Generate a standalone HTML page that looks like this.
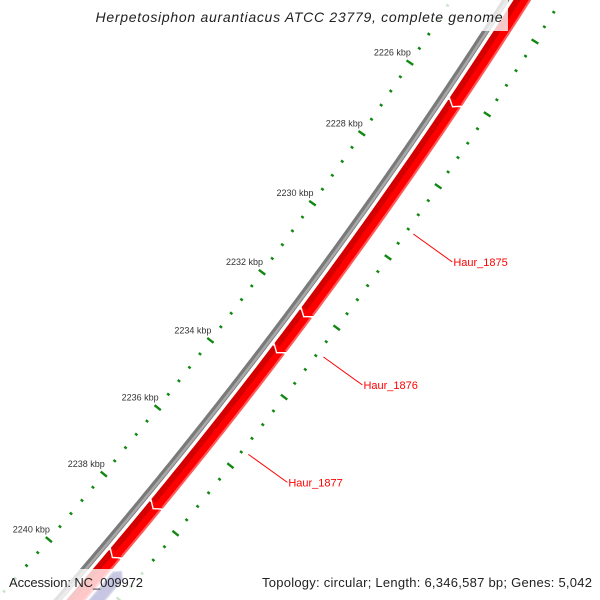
<!DOCTYPE html>
<html><head><meta charset="utf-8"><style>
html,body{margin:0;padding:0;background:#fff;width:600px;height:600px;overflow:hidden;}
svg{display:block;font-family:"Liberation Sans",sans-serif;}
</style></head><body>
<svg id="map" width="600" height="600" viewBox="0 0 600 600" xmlns="http://www.w3.org/2000/svg" overflow="hidden">
<defs><clipPath id="frame"><rect x="0" y="0" width="600" height="600"/></clipPath></defs>
<g clip-path="url(#frame)">
<g id="ticks"></g>
<g id="backbone"></g>
<g id="genes"></g>
<g id="labels"></g>
</g>
<rect x="90" y="0" width="418" height="31" fill="#fff" fill-opacity="0.78"/>
<text x="299" y="22" text-anchor="middle" font-size="14" font-style="italic" fill="#222" textLength="407">Herpetosiphon aurantiacus ATCC 23779, complete genome</text>
<rect x="0" y="569" width="150" height="31" fill="#fff" fill-opacity="0.78"/>
<text x="9" y="587" font-size="13" fill="#222" textLength="134">Accession: NC_009972</text>
<rect x="255" y="569" width="345" height="31" fill="#fff" fill-opacity="0.78"/>
<text x="262" y="587" font-size="13" fill="#222" textLength="330">Topology: circular; Length: 6,346,587 bp; Genes: 5,042</text>
</svg>
<script>
var geneNames = ["", "Haur_1875", "Haur_1876", "Haur_1877", "", ""];
var geneStarts = [2222000, 2226200, 2232150, 2233190, 2237790, 2239260];
var geneEnds = [2226300, 2232250, 2233290, 2237890, 2239360, 2244000];
var revStarts = [2239470];
var revEnds = [2244000];
var tickStartBp = 2220000;
var tickEndBp = 2244000;
var tickStepBp = 400;
var majorStepBp = 2000;

var NS = "http://www.w3.org/2000/svg";
var CX = -3827, CY = -2769;
var R_BACK = 5142, R_IN = 5096, R_OUT = 5189;
function theta(bp){ return 0.63949 + (bp - 2232000) * 8.39e-6; }
function pt(r, t){ return [CX + r*Math.cos(t), CY + r*Math.sin(t)]; }
function arcPts(r, t0, t1){
  var n = Math.max(2, Math.ceil(Math.abs(t1-t0)*r/4)), a = [];
  for (var i=0;i<=n;i++){ a.push(pt(r, t0 + (t1-t0)*i/n)); }
  return a;
}
function toStr(a){ return a.map(function(p){return p[0].toFixed(2)+","+p[1].toFixed(2);}).join(" "); }
function mk(tag, parent){ var e = document.createElementNS(NS, tag); parent.appendChild(e); return e; }

var bb = document.getElementById("backbone");
var t0 = theta(tickStartBp), t1 = theta(tickEndBp);
var b1 = mk("polyline", bb);


b1.setAttribute("points", toStr(arcPts(R_BACK, t0, t1)));
b1.setAttribute("fill","none"); b1.setAttribute("stroke","#7a7a7a"); b1.setAttribute("stroke-width","6.5");
var b2 = mk("polyline", bb);


b2.setAttribute("points", toStr(arcPts(R_BACK+1.2, t0, t1)));
b2.setAttribute("fill","none"); b2.setAttribute("stroke","#a8a8a8"); b2.setAttribute("stroke-width","2.5");

var tg = document.getElementById("ticks");
for (var bp = tickStartBp; bp <= tickEndBp; bp += tickStepBp){
  var t = theta(bp), major = (bp % majorStepBp === 0);
  [R_IN, R_OUT].forEach(function(rc){
    var h = major ? 4 : 1.5;
    var p0 = pt(rc-h, t), p1 = pt(rc+h, t);
    var l = mk("line", tg);
    
    
    l.setAttribute("x1",p0[0]); l.setAttribute("y1",p0[1]);
    l.setAttribute("x2",p1[0]); l.setAttribute("y2",p1[1]);
    l.setAttribute("stroke","#118811"); l.setAttribute("stroke-width","2.4");
  });
  if (major){
    var pl = pt(R_IN, t);
    var tx = mk("text", tg);
    
    
    tx.setAttribute("x", pl[0]+1); tx.setAttribute("y", pl[1]-7);
    tx.setAttribute("text-anchor","end"); tx.setAttribute("font-size","9"); tx.setAttribute("fill","#333");
    tx.textContent = (bp/1000) + " kbp";
  }
}

var gg = document.getElementById("genes");
var rIn = R_BACK + 6, rOut = R_BACK + 22, rMid = (rIn + rOut)/2;
var head = 6 / rMid;
for (var i = geneStarts.length-1; i >= 0; i--){
  var ts = theta(geneStarts[i]), te = theta(geneEnds[i]);
  var g = mk("g", gg);
  
  
  var pts = arcPts(rIn, ts, te-head).concat([pt(rMid, te)]).concat(arcPts(rOut, te-head, ts));
  var pg = mk("polygon", g);
  
  
  pg.setAttribute("points", toStr(pts));
  pg.setAttribute("fill","#ff0000"); pg.setAttribute("stroke","#fff"); pg.setAttribute("stroke-width","1.4");
  var dk = mk("polyline", g);
  
  
  dk.setAttribute("points", toStr(arcPts(rIn+3.6, ts+0.8/rMid, te-head-0.5/rMid)));
  dk.setAttribute("fill","none"); dk.setAttribute("stroke","#d40000"); dk.setAttribute("stroke-width","6");
  var lt2 = mk("polyline", g);
  
  
  lt2.setAttribute("points", toStr(arcPts(rOut-1.6, ts+0.8/rMid, te-head-0.5/rMid)));
  lt2.setAttribute("fill","none"); lt2.setAttribute("stroke","#ff5a5a"); lt2.setAttribute("stroke-width","2");
}
var nIn = R_BACK + 24, nOut = R_BACK + 36, nMid = (nIn+nOut)/2, nHead = 6/nMid;
for (var j = 0; j < revStarts.length; j++){
  var ts2 = theta(revStarts[j]), te2 = theta(revEnds[j]);
  var p2 = [pt(nMid, ts2)].concat(arcPts(nIn, ts2+nHead, te2)).concat(arcPts(nOut, te2, ts2+nHead));
  var pr = mk("polygon", gg);
  
  
  pr.setAttribute("points", toStr(p2));
  pr.setAttribute("fill","#000080"); pr.setAttribute("stroke","#5a5aa8"); pr.setAttribute("stroke-width","1.5");
}

var lg = document.getElementById("labels");
for (var k = 0; k < geneNames.length; k++){
  if (!geneNames[k]) continue;
  var tm = theta((geneStarts[k] + geneEnds[k]) / 2);
  var s = pt(R_BACK + 54, tm);
  var ln = mk("line", lg);
  
  
  ln.setAttribute("x1", s[0]); ln.setAttribute("y1", s[1]);
  ln.setAttribute("x2", s[0]+39); ln.setAttribute("y2", s[1]+28);
  ln.setAttribute("stroke","#ff0000"); ln.setAttribute("stroke-width","1");
  var lt = mk("text", lg);
  
  
  lt.setAttribute("x", s[0]+40); lt.setAttribute("y", s[1]+32);
  lt.setAttribute("font-size","11"); lt.setAttribute("fill","#ff0000");
  lt.textContent = geneNames[k];
}
</script>
</body></html>
